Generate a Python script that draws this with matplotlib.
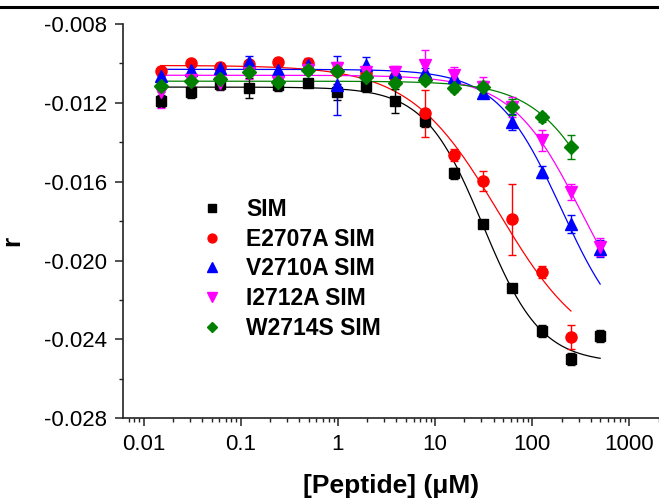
import numpy as np
import matplotlib
matplotlib.use("Agg")
import matplotlib.pyplot as plt
from matplotlib.lines import Line2D
from matplotlib.ticker import FixedLocator, MultipleLocator, FormatStrFormatter, LogLocator, NullFormatter

plt.rcParams['font.family'] = ['Liberation Sans', 'DejaVu Sans']
plt.rcParams['axes.unicode_minus'] = False

# Peptide concentrations (uM), two-fold serial dilution
conc = [0.015, 0.031, 0.061, 0.122, 0.244, 0.488, 0.977, 1.95, 3.9, 7.8,
        15.6, 31.25, 62.5, 125, 250, 500]

# Anisotropy r (mean) and error for each construct
sim_r = [-0.01191, -0.01144, -0.01105, -0.01126, -0.01110, -0.01101, -0.01144, -0.01115,
         -0.01189, -0.01292, -0.01558, -0.01812, -0.02140, -0.02358, -0.02500, -0.02384]
sim_err = [0.0003, 0.0003, 0.0003, 0.0005, 0.0003, 0.0002, 0.0004, 0.0003,
           0.0006, 0.0003, 0.0003, 0.0002, 0.0002, 0.0003, 0.0003, 0.0003]

e2707a_r = [-0.01037, -0.00996, -0.01017, -0.01003, -0.00991, -0.01000, -0.01037, -0.01049,
            -0.01070, -0.01253, -0.01465, -0.01597, -0.01791, -0.02057, -0.02387]
e2707a_err = [0.0002, 0.0001, 0.0002, 0.0001, 0.0002, 0.0003, 0.0002, 0.0002,
              0.0002, 0.0012, 0.0003, 0.0005, 0.0018, 0.0003, 0.0006]

v2710a_r = [-0.01064, -0.01033, -0.01025, -0.00991, -0.01033, -0.01008, -0.01110, -0.01008,
            -0.01042, -0.01042, -0.01068, -0.01152, -0.01296, -0.01551, -0.01815, -0.01939]
v2710a_err = [0.0003, 0.0002, 0.0002, 0.0003, 0.0002, 0.0002, 0.0015, 0.0004,
              0.0002, 0.0002, 0.0003, 0.0002, 0.0004, 0.0003, 0.00045, 0.00045]

i2712a_r = [-0.01145, -0.01084, -0.01099, -0.01049, -0.01093, -0.01033, -0.01025, -0.01042,
            -0.01042, -0.01008, -0.01059, -0.01118, -0.01220, -0.01389, -0.01651, -0.01930]
i2712a_err = [0.0008, 0.0003, 0.0003, 0.0003, 0.0003, 0.0002, 0.0003, 0.0003,
              0.0003, 0.00075, 0.0004, 0.0005, 0.0005, 0.00053, 0.0004, 0.00045]

w2714s_r = [-0.01115, -0.01088, -0.01081, -0.01044, -0.01093, -0.01033, -0.01037, -0.01068,
            -0.01101, -0.01084, -0.01126, -0.01118, -0.01220, -0.01274, -0.01423]
w2714s_err = [0.0003, 0.0002, 0.0003, 0.0002, 0.0002, 0.0002, 0.0002, 0.0002,
              0.0002, 0.0002, 0.0002, 0.0003, 0.0004, 0.00025, 0.0006]

# Four-parameter logistic fit parameters: top, bottom, EC50 (uM), Hill slope
sim_fit = (-0.0112, -0.0252, 31.0, 1.45)
e2707a_fit = (-0.0101, -0.0250, 45.0, 0.95)
v2710a_fit = (-0.0103, -0.0245, 200.0, 1.3)
i2712a_fit = (-0.0106, -0.0245, 320.0, 1.2)
w2714s_fit = (-0.0109, -0.0245, 635.0, 1.2)

labels = ['SIM', 'E2707A SIM', 'V2710A SIM', 'I2712A SIM', 'W2714S SIM']
colors = ['black', '#ff0000', '#0000ff', '#ff00ff', '#008000']
markers = ['s', 'o', '^', 'v', 'D']
msizes = [7.5, 8, 8.5, 8.5, 7]

series = [(sim_r, sim_err, sim_fit), (e2707a_r, e2707a_err, e2707a_fit),
          (v2710a_r, v2710a_err, v2710a_fit), (i2712a_r, i2712a_err, i2712a_fit),
          (w2714s_r, w2714s_err, w2714s_fit)]


def logistic(x, top, bottom, ec50, hill):
    return top + (bottom - top) / (1.0 + (ec50 / x) ** hill)


fig = plt.figure(figsize=(6.59, 5.0), dpi=100)
ax = fig.add_axes([0.1862, 0.1634, 0.8138, 0.7886])

for (r, err, fit), lab, col, mk, ms in zip(series, labels, colors, markers, msizes):
    x = np.array(conc[:len(r)])
    xs = np.logspace(np.log10(x[0]), np.log10(x[-1]), 300)
    ax.plot(xs, logistic(xs, *fit), color=col, lw=0.9, zorder=2)
    ax.errorbar(x, r, yerr=err, fmt=mk, color=col, ecolor=col, ms=ms,
                mec=col, elinewidth=1.0, capsize=3.0, capthick=1.0, zorder=3)

ax.set_xscale('log')
ax.set_xlim(10 ** -2.2162, 10 ** 3.3047)
ax.set_ylim(-0.028, -0.008)

ax.xaxis.set_major_locator(FixedLocator([0.01, 0.1, 1, 10, 100, 1000]))
ax.set_xticklabels(['0.01', '0.1', '1', '10', '100', '1000'])
ax.xaxis.set_minor_locator(LogLocator(base=10, subs=np.arange(2, 10), numticks=20))
ax.xaxis.set_minor_formatter(NullFormatter())
ax.yaxis.set_major_locator(MultipleLocator(0.004))
ax.yaxis.set_minor_locator(MultipleLocator(0.002))
ax.yaxis.set_major_formatter(FormatStrFormatter('%.3f'))

for side in ('top', 'right'):
    ax.spines[side].set_visible(False)
for side in ('left', 'bottom'):
    ax.spines[side].set_linewidth(1.2)
    ax.spines[side].set_color('#222222')

ax.tick_params(which='major', direction='out', length=6, width=1.1, labelsize=16,
               colors='#222222', labelcolor='black', pad=5)
ax.tick_params(which='minor', direction='out', length=3.2, width=1.0, colors='#222222')

ax.set_xlabel('[Peptide] (\u03bcM)', fontsize=19, fontweight='bold', labelpad=14)
ax.set_ylabel('r', fontsize=19, fontweight='bold')
ax.yaxis.set_label_coords(-0.184, 0.45)

handles = [Line2D([], [], ls='none', marker=mk, color=col, ms=ms * 0.8)
           for col, mk, ms in zip(colors, markers, msizes)]
leg = ax.legend(handles, labels, loc='upper left', bbox_to_anchor=(0.128, 0.582),
                frameon=False, prop={'size': 16.5, 'weight': 'bold'},
                handlelength=1.0, handletextpad=1.0, labelspacing=0.29,
                borderaxespad=0.0)

# Rule across the top of the figure
fig.add_artist(Line2D([0, 1], [0.986, 0.986], transform=fig.transFigure,
                      color='black', lw=2.2))

fig.savefig('out.png', dpi=100)
